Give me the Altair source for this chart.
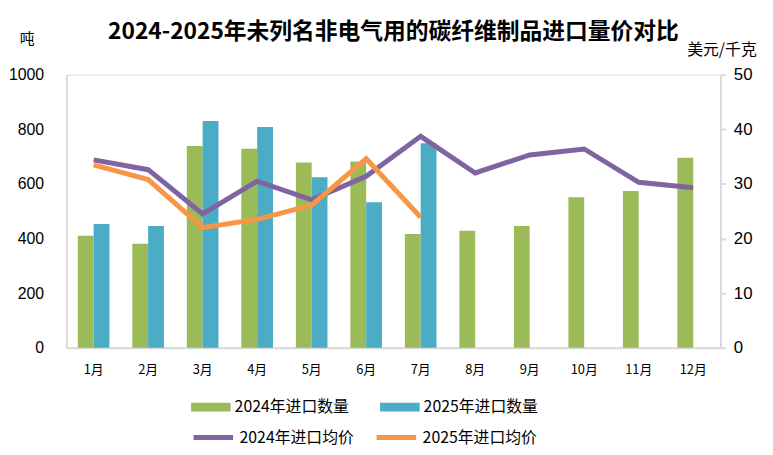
import altair as alt
import pandas as pd

months = ["1月", "2月", "3月", "4月", "5月", "6月", "7月", "8月", "9月", "10月", "11月", "12月"]
qty_2024 = [410, 381, 739, 729, 678, 682, 417, 428, 446, 551, 574, 696]
qty_2025 = [453, 446, 830, 808, 624, 533, 749]
price_2024 = [34.4, 32.6, 24.5, 30.5, 27.1, 31.4, 38.7, 32.0, 35.3, 36.4, 30.3, 29.3]
price_2025 = [33.5, 30.8, 22.0, 23.5, 26.1, 34.6, 23.9]

S_Q24 = "2024年进口数量"
S_Q25 = "2025年进口数量"
S_P24 = "2024年进口均价"
S_P25 = "2025年进口均价"

bar_rows = [{"month": m, "series": S_Q24, "value": v} for m, v in zip(months, qty_2024)]
bar_rows += [{"month": m, "series": S_Q25, "value": v} for m, v in zip(months, qty_2025)]
line_rows = [{"month": m, "series": S_P24, "value": v} for m, v in zip(months, price_2024)]
line_rows += [{"month": m, "series": S_P25, "value": v} for m, v in zip(months, price_2025)]
bars_df = pd.DataFrame(bar_rows)
lines_df = pd.DataFrame(line_rows)

FONT = "Noto Sans CJK SC"
NUMFONT = "Liberation Sans"
AXIS_GRAY = "#d9d9d9"

x_enc = alt.X(
    "month:N",
    sort=months,
    scale=alt.Scale(domain=months, paddingInner=0.42, paddingOuter=0.21),
    axis=alt.Axis(
        title=None, labelAngle=0, labelFontSize=13, labelFont=FONT, labelPadding=16,
        ticks=False, domainColor=AXIS_GRAY, domainWidth=2, labelColor="#000000",
    ),
)

bars = alt.Chart(bars_df).mark_bar().encode(
    x=x_enc,
    xOffset=alt.XOffset("series:N", scale=alt.Scale(domain=[S_Q24, S_Q25], paddingInner=0, paddingOuter=0)),
    y=alt.Y(
        "value:Q",
        scale=alt.Scale(domain=[0, 1000], nice=False),
        axis=alt.Axis(
            values=[0, 200, 400, 600, 800, 1000], format="d", grid=False, ticks=False,
            labelFontSize=16, labelFont=NUMFONT, labelPadding=23, labelColor="#000000",
            domainColor=AXIS_GRAY, domainWidth=2,
            title="吨", titleAngle=0, titleX=-40, titleY=-36, titleAlign="center",
            titleBaseline="middle", titleFont=FONT, titleFontSize=15, titleFontWeight="normal",
            titleColor="#000000",
        ),
    ),
    color=alt.Color(
        "series:N",
        scale=alt.Scale(domain=[S_Q24, S_Q25], range=["#9BBB59", "#4BACC6"]),
        legend=alt.Legend(
            title=None, orient="none", direction="horizontal", legendX=126, legendY=316,
            symbolType="M-1,-0.225H1V0.225H-1Z", symbolSize=1600, symbolStrokeWidth=0,
            labelFont=FONT, labelFontSize=16, labelColor="#000000", labelOffset=4,
            columnPadding=31,
        ),
    ),
)

lines = alt.Chart(lines_df).mark_line(strokeWidth=5).encode(
    x=x_enc,
    y=alt.Y(
        "value:Q",
        scale=alt.Scale(domain=[0, 50], nice=False),
        axis=alt.Axis(
            orient="right", values=[0, 10, 20, 30, 40, 50], grid=False, ticks=True, tickSize=5,
            tickColor=AXIS_GRAY, tickWidth=2,
            labelFontSize=17, labelFont=NUMFONT, labelPadding=8, labelColor="#000000",
            domainColor=AXIS_GRAY, domainWidth=2,
            title="美元/千克", titleAngle=0, titleX=1, titleY=-25, titleAlign="center",
            titleBaseline="middle", titleFont=FONT, titleFontSize=16, titleFontWeight="normal",
            titleColor="#000000",
        ),
    ),
    stroke=alt.Stroke(
        "series:N",
        scale=alt.Scale(domain=[S_P24, S_P25], range=["#8064A2", "#F79646"]),
        legend=alt.Legend(
            title=None, orient="none", direction="horizontal", legendX=126, legendY=344,
            symbolType="stroke", symbolSize=1600, symbolStrokeWidth=5,
            labelFont=FONT, labelFontSize=16, labelColor="#000000", labelOffset=4,
            columnPadding=12,
        ),
    ),
)

chart = (
    alt.layer(bars, lines)
    .resolve_scale(y="independent", color="independent")
    .properties(
        width=661,
        height=276,
        autosize="none",
        padding={"left": 59, "top": 65, "right": 45, "bottom": 105},
        title=alt.TitleParams(
            text="2024-2025年未列名非电气用的碳纤维制品进口量价对比",
            font=FONT, fontSize=23, fontWeight="bold", color="#000000",
            anchor="middle", offset=8, dy=20,
        ),
    )
    .configure_view(stroke=None)
    .configure(background="white")
)

chart.save("out.html", embed_options={"renderer": "svg", "actions": False})
